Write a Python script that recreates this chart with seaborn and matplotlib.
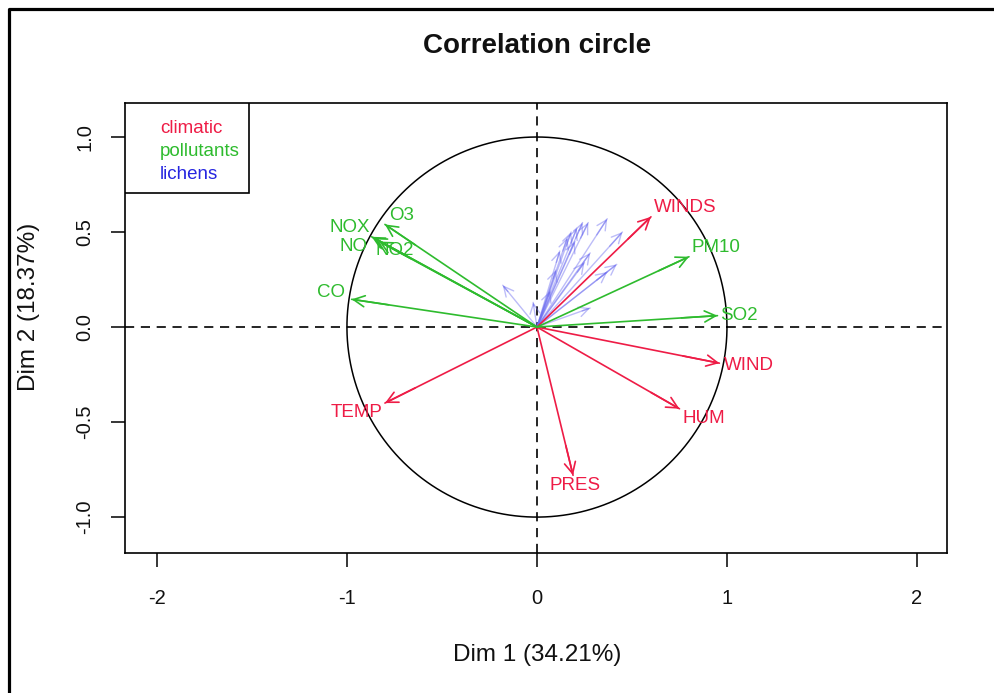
import numpy as np
import pandas as pd
import matplotlib
matplotlib.use("Agg")
import matplotlib.pyplot as plt
from matplotlib.lines import Line2D
from matplotlib.patches import Rectangle
import seaborn as sns

# ---- data: coordinates of the variables on the first two dimensions ----
climatic_names = ["WINDS", "WIND", "HUM", "PRES", "TEMP"]
climatic_x = [0.60, 0.96, 0.75, 0.19, -0.80]
climatic_y = [0.58, -0.19, -0.43, -0.78, -0.40]

pollutant_names = ["PM10", "SO2", "O3", "NOX", "NO", "NO2", "CO"]
pollutant_x = [0.80, 0.95, -0.80, -0.87, -0.86, -0.83, -0.975]
pollutant_y = [0.37, 0.06, 0.54, 0.475, 0.47, 0.45, 0.146]

lichen_x = [0.37, 0.45, 0.27, 0.24, 0.21, 0.18, 0.16, 0.42, 0.37, 0.28,
            0.28, 0.25, -0.18, -0.02, 0.07, 0.20, 0.12, 0.10]
lichen_y = [0.57, 0.50, 0.55, 0.55, 0.52, 0.50, 0.47, 0.33, 0.29, 0.10,
            0.39, 0.34, 0.22, 0.13, 0.19, 0.45, 0.40, 0.30]

x_ticks = [-2, -1, 0, 1, 2]
y_ticks = [-1.0, -0.5, 0.0, 0.5, 1.0]
x_label = "Dim 1 (34.21%)"
y_label = "Dim 2 (18.37%)"
title = "Correlation circle"
groups = ["climatic", "pollutants", "lichens"]

# ---- styling ----
RED = "#EE1C46"
GREEN = "#2EBB2E"
BLUE = "#2626E0"
LICHEN = "#6C6CF0"
palette = {"climatic": RED, "pollutants": GREEN, "lichens": BLUE}

# label placement relative to arrow tip (points, ha)
label_offsets = {
    "WINDS": (2, 6.5, "left"), "WIND": (3.5, -1.5, "left"),
    "HUM": (2, -7, "left"), "PRES": (1.5, -7.5, "center"),
    "TEMP": (-2, -7, "right"), "PM10": (2, 6.5, "left"),
    "SO2": (2, 0, "left"), "O3": (3, 6.5, "left"),
    "NOX": (-1, 6.5, "right"), "NO": (-4, -6, "right"),
    "NO2": (-3, -6.5, "left"), "CO": (-5, 5, "right"),
}

sns.set_style("white")
plt.rcParams["font.family"] = ["Liberation Sans", "DejaVu Sans"]

fig = plt.figure(figsize=(9.95, 6.93), dpi=100)
ax = fig.add_axes([125 / 995, 1 - 553 / 693, 822 / 995, 450 / 693])

# segment table: origin -> tip for every variable
rows = []
for names, xs, ys, grp in [(climatic_names, climatic_x, climatic_y, "climatic"),
                           (pollutant_names, pollutant_x, pollutant_y, "pollutants")]:
    for n, x, y in zip(names, xs, ys):
        rows.append((n, grp, 0.0, 0.0))
        rows.append((n, grp, x, y))
vars_df = pd.DataFrame(rows, columns=["name", "group", "x", "y"])

lrows = []
for i, (x, y) in enumerate(zip(lichen_x, lichen_y)):
    lrows.append((f"L{i}", 0.0, 0.0))
    lrows.append((f"L{i}", x, y))
lich_df = pd.DataFrame(lrows, columns=["name", "x", "y"])

# reference lines and unit circle
ax.axhline(0, color="black", lw=1.2, ls=(0, (5.5, 4)), zorder=1)
ax.axvline(0, color="black", lw=1.2, ls=(0, (5.5, 4)), zorder=1)
t = np.linspace(0, 2 * np.pi, 400)
ax.plot(np.cos(t), np.sin(t), color="black", lw=1.1, zorder=1)

# lichen arrows (faint)
sns.lineplot(data=lich_df, x="x", y="y", units="name", estimator=None,
             sort=False, color=LICHEN, alpha=0.45, lw=1.0, legend=False,
             ax=ax, zorder=2)
for x, y in zip(lichen_x, lichen_y):
    ax.annotate("", xy=(x, y), xytext=(0.85 * x, 0.85 * y),
                arrowprops=dict(arrowstyle="->,head_length=0.7,head_width=0.35",
                                color=LICHEN, alpha=0.45, lw=1.0,
                                shrinkA=0, shrinkB=0), zorder=2)

# climatic and pollutant arrows
sns.lineplot(data=vars_df, x="x", y="y", units="name", estimator=None,
             sort=False, hue="group",
             palette={"climatic": RED, "pollutants": GREEN},
             lw=1.2, legend=False, ax=ax, zorder=3)
for names, xs, ys, col in [(climatic_names, climatic_x, climatic_y, RED),
                           (pollutant_names, pollutant_x, pollutant_y, GREEN)]:
    for n, x, y in zip(names, xs, ys):
        ax.annotate("", xy=(x, y), xytext=(0.8 * x, 0.8 * y),
                    arrowprops=dict(arrowstyle="->,head_length=0.8,head_width=0.4",
                                    color=col, lw=1.2, shrinkA=0, shrinkB=0),
                    zorder=3)
        dx, dy, ha = label_offsets[n]
        ax.annotate(n, xy=(x, y), xytext=(dx, dy), textcoords="offset points",
                    ha=ha, va="center", color=col, fontsize=13.5, zorder=4)

ax.set_xlim(-2.168, 2.158)
ax.set_ylim(-1.189, 1.179)
ax.set_xticks(x_ticks)
ax.set_xticklabels([f"{v:g}" for v in x_ticks])
ax.set_yticks(y_ticks)
ax.set_yticklabels([f"{v:.1f}" for v in y_ticks])
ax.tick_params(axis="both", direction="out", length=10, width=1.1,
               color="black", labelsize=14.5, labelcolor="#111111", bottom=True, left=True)
ax.tick_params(axis="x", pad=16)
ax.tick_params(axis="y", pad=12, labelrotation=90)
for lab in ax.get_yticklabels():
    lab.set_va("center")
for sp in ax.spines.values():
    sp.set_color("black")
    sp.set_linewidth(1.2)
ax.set_xlabel("")
ax.set_ylabel("")
fig.text(537 / 995, 1 - 655 / 693, x_label, ha="center", va="center",
         fontsize=17.5, color="#111111")
fig.text(29 / 995, 1 - 307 / 693, y_label, ha="center", va="center",
         rotation=90, fontsize=17.5, color="#111111")
fig.text(537 / 995, 1 - 46 / 693, title, ha="center", va="center",
         fontsize=20, fontweight="bold", color="#111111")

# legend box
ax.add_patch(Rectangle((0, 0.8), 124 / 822, 0.2, transform=ax.transAxes,
                       facecolor="white", edgecolor="black", lw=1.2, zorder=5))
for i, g in enumerate(groups):
    ax.text(35 / 822, (553 - 133 - 23 * i) / 450, g, transform=ax.transAxes,
            ha="left", va="baseline", color=palette[g], fontsize=13.5, zorder=6)

# outer frame
fig.add_artist(Line2D([8.5 / 995, 8.5 / 995, 1.0], [0.0, 1 - 9 / 693, 1 - 9 / 693],
                      transform=fig.transFigure, color="black", lw=2.3))

fig.savefig("out.png", dpi=100, facecolor="white")
